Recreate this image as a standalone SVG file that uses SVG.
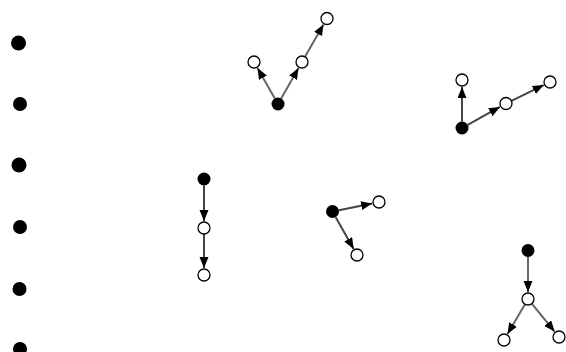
<svg xmlns="http://www.w3.org/2000/svg" width="566" height="352" viewBox="0 0 566 352">
<style>
.dot{fill:#000}
.bn{fill:#000}
.on{fill:#fff;stroke:#000;stroke-width:1.3}
.e{stroke:#444;stroke-width:2;fill:none;marker-end:url(#ah)}
.g{stroke:#666}
</style>
<defs>
<marker id="ah" markerUnits="userSpaceOnUse" markerWidth="12" markerHeight="10" refX="11" refY="4.5" orient="auto">
<path d="M0,0 L11,4.5 L0,9 z" fill="#000"/>
</marker>
</defs>
<g id="left-dots">
<circle class="dot" cx="18.5" cy="43" r="7.5"/>
<circle class="dot" cx="20" cy="104" r="7"/>
<circle class="dot" cx="19" cy="165" r="7.5"/>
<circle class="dot" cx="20" cy="227" r="7"/>
<circle class="dot" cx="19.5" cy="289" r="7"/>
<circle class="dot" cx="20" cy="349" r="7"/>
</g>
<g id="connectors">
<line class="e g" x1="274.8" y1="98.4" x2="257.5" y2="68.1"/>
<line class="e g" x1="281.2" y1="98.4" x2="298.5" y2="68.1"/>
<line class="e g" x1="305" y1="56.8" x2="323.5" y2="24.4"/>
<line class="e" x1="462" y1="121.5" x2="462" y2="87"/>
<line class="e" x1="467.7" y1="124.8" x2="499.9" y2="106.9"/>
<line class="e" x1="511.4" y1="100.9" x2="543.7" y2="85.1"/>
<line class="e" x1="204" y1="185.5" x2="204" y2="221"/>
<line class="e" x1="204" y1="234" x2="204" y2="268"/>
<line class="e" x1="338.9" y1="210.2" x2="372.1" y2="203.4"/>
<line class="e" x1="335.7" y1="217.2" x2="353.6" y2="248.9"/>
<line class="e g" x1="528" y1="257" x2="528" y2="292"/>
<line class="e g" x1="525" y1="304.2" x2="507.5" y2="334"/>
<line class="e g" x1="531.8" y1="303.6" x2="554.6" y2="331.6"/>
</g>
<g id="tree1">
<circle class="bn" cx="278" cy="104" r="6.5"/>
<circle class="on" cx="254" cy="62" r="6"/>
<circle class="on" cx="302" cy="62" r="6"/>
<circle class="on" cx="327" cy="18.5" r="6"/>
</g>
<g id="tree2">
<circle class="bn" cx="462" cy="128" r="6.5"/>
<circle class="on" cx="462" cy="80" r="6"/>
<circle class="on" cx="506" cy="103.5" r="6"/>
<circle class="on" cx="550" cy="82" r="6"/>
</g>
<g id="tree3">
<circle class="bn" cx="204" cy="179" r="6.5"/>
<circle class="on" cx="204" cy="228" r="6"/>
<circle class="on" cx="204" cy="275" r="6"/>
</g>
<g id="tree4">
<circle class="bn" cx="332.5" cy="211.5" r="6.5"/>
<circle class="on" cx="379" cy="202" r="6"/>
<circle class="on" cx="357" cy="255" r="6"/>
</g>
<g id="tree5">
<circle class="bn" cx="528" cy="250.5" r="6.5"/>
<circle class="on" cx="528" cy="299" r="6"/>
<circle class="on" cx="504" cy="340" r="6"/>
<circle class="on" cx="559" cy="337" r="6"/>
</g>
</svg>
